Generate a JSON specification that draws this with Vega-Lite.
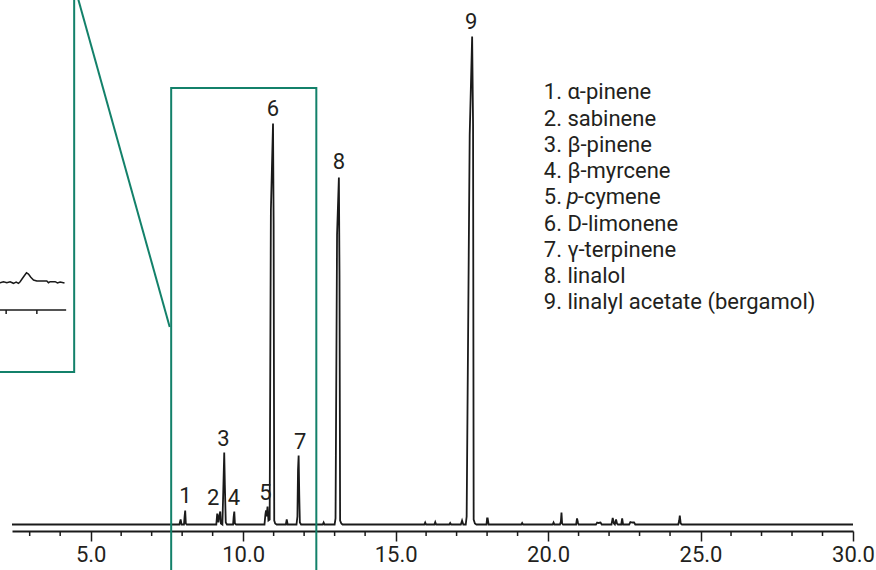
{
  "$schema": "https://vega.github.io/schema/vega-lite/v6.json",
  "width": 841,
  "height": 531,
  "autosize": {"type": "none"},
  "padding": {"left": 12, "right": 23, "top": 0, "bottom": 39},
  "background": "white",
  "config": {"view": {"stroke": null}, "font": "Roboto", "axis": {"labelOverlap": false, "labelFlush": false}},
  "datasets": {
    "trace": [
      {"t": 2.42, "v": 0},
      {"t": 7.91, "v": 0}, {"t": 7.95, "v": 5}, {"t": 7.98, "v": 0},
      {"t": 8.06, "v": 0}, {"t": 8.08, "v": 8}, {"t": 8.10, "v": 14}, {"t": 8.12, "v": 1}, {"t": 8.15, "v": 0},
      {"t": 9.12, "v": 0}, {"t": 9.15, "v": 11}, {"t": 9.19, "v": 2}, {"t": 9.22, "v": 9}, {"t": 9.25, "v": 13}, {"t": 9.27, "v": 1}, {"t": 9.32, "v": 0},
      {"t": 9.35, "v": 35}, {"t": 9.38, "v": 72}, {"t": 9.40, "v": 40}, {"t": 9.43, "v": 2}, {"t": 9.47, "v": 0},
      {"t": 9.67, "v": 0}, {"t": 9.69, "v": 8}, {"t": 9.71, "v": 13}, {"t": 9.73, "v": 1}, {"t": 9.77, "v": 0},
      {"t": 10.70, "v": 0}, {"t": 10.73, "v": 10}, {"t": 10.75, "v": 14}, {"t": 10.77, "v": 8}, {"t": 10.80, "v": 18}, {"t": 10.83, "v": 4},
      {"t": 10.87, "v": 5}, {"t": 10.91, "v": 314}, {"t": 10.98, "v": 401}, {"t": 11.00, "v": 300}, {"t": 11.02, "v": 4}, {"t": 11.05, "v": 1}, {"t": 11.10, "v": 0},
      {"t": 11.40, "v": 0}, {"t": 11.43, "v": 5}, {"t": 11.46, "v": 0},
      {"t": 11.75, "v": 0}, {"t": 11.78, "v": 8}, {"t": 11.80, "v": 55}, {"t": 11.82, "v": 69}, {"t": 11.84, "v": 30}, {"t": 11.86, "v": 2}, {"t": 11.90, "v": 0},
      {"t": 12.61, "v": 0}, {"t": 12.64, "v": 2}, {"t": 12.67, "v": 0},
      {"t": 13.00, "v": 0}, {"t": 13.03, "v": 6}, {"t": 13.08, "v": 290}, {"t": 13.14, "v": 347}, {"t": 13.16, "v": 250}, {"t": 13.18, "v": 4}, {"t": 13.22, "v": 1}, {"t": 13.26, "v": 0},
      {"t": 15.94, "v": 0}, {"t": 15.97, "v": 2}, {"t": 16.00, "v": 0},
      {"t": 16.27, "v": 0}, {"t": 16.30, "v": 2.5}, {"t": 16.33, "v": 0},
      {"t": 16.76, "v": 0}, {"t": 16.79, "v": 1.5}, {"t": 16.82, "v": 0},
      {"t": 17.14, "v": 0}, {"t": 17.18, "v": 4}, {"t": 17.22, "v": 0},
      {"t": 17.30, "v": 0}, {"t": 17.33, "v": 8}, {"t": 17.43, "v": 390}, {"t": 17.51, "v": 488}, {"t": 17.54, "v": 400}, {"t": 17.56, "v": 5}, {"t": 17.60, "v": 1}, {"t": 17.65, "v": 0},
      {"t": 17.98, "v": 0}, {"t": 18.00, "v": 6}, {"t": 18.02, "v": 6}, {"t": 18.05, "v": 0},
      {"t": 19.12, "v": 0}, {"t": 19.15, "v": 1.5}, {"t": 19.18, "v": 0},
      {"t": 20.15, "v": 0}, {"t": 20.18, "v": 2}, {"t": 20.21, "v": 0},
      {"t": 20.39, "v": 0}, {"t": 20.42, "v": 3}, {"t": 20.44, "v": 12}, {"t": 20.46, "v": 1}, {"t": 20.49, "v": 0},
      {"t": 20.92, "v": 0}, {"t": 20.95, "v": 6}, {"t": 20.98, "v": 2}, {"t": 21.00, "v": 0},
      {"t": 21.57, "v": 0}, {"t": 21.61, "v": 2}, {"t": 21.65, "v": 1.5}, {"t": 21.72, "v": 2}, {"t": 21.76, "v": 0},
      {"t": 22.08, "v": 0}, {"t": 22.12, "v": 6.5}, {"t": 22.16, "v": 1}, {"t": 22.19, "v": 0}, {"t": 22.23, "v": 5}, {"t": 22.26, "v": 1}, {"t": 22.29, "v": 0},
      {"t": 22.40, "v": 0}, {"t": 22.43, "v": 6}, {"t": 22.46, "v": 0},
      {"t": 22.66, "v": 0}, {"t": 22.70, "v": 2.5}, {"t": 22.76, "v": 2}, {"t": 22.82, "v": 2}, {"t": 22.86, "v": 0},
      {"t": 24.27, "v": 0}, {"t": 24.30, "v": 4}, {"t": 24.32, "v": 9}, {"t": 24.35, "v": 1}, {"t": 24.39, "v": 0},
      {"t": 30.0, "v": 0}
    ],
    "minorTicks": [
      {"t": 3}, {"t": 4}, {"t": 6}, {"t": 7}, {"t": 8}, {"t": 9}, {"t": 11}, {"t": 12}, {"t": 13}, {"t": 14},
      {"t": 16}, {"t": 17}, {"t": 18}, {"t": 19}, {"t": 21}, {"t": 22}, {"t": 23}, {"t": 24}, {"t": 26}, {"t": 27}, {"t": 28}, {"t": 29}
    ],
    "insetTrace": [
      {"t": 1.90, "v": 241.8}, {"t": 2.031, "v": 241.8}, {"t": 2.140, "v": 242.8}, {"t": 2.250, "v": 241.8}, {"t": 2.359, "v": 242.8},
      {"t": 2.468, "v": 241.2}, {"t": 2.556, "v": 242.5}, {"t": 2.632, "v": 241.2}, {"t": 2.687, "v": 242.8}, {"t": 2.742, "v": 245.2},
      {"t": 2.818, "v": 248.5}, {"t": 2.895, "v": 251.8}, {"t": 2.960, "v": 250.5}, {"t": 3.037, "v": 247.2}, {"t": 3.125, "v": 244.5},
      {"t": 3.234, "v": 243.5}, {"t": 3.562, "v": 243.5}, {"t": 3.617, "v": 241.8}, {"t": 3.671, "v": 242.8}, {"t": 3.835, "v": 242.8},
      {"t": 3.912, "v": 241.5}, {"t": 3.999, "v": 242.5}, {"t": 4.142, "v": 241.5}
    ],
    "insetAxis": [
      {"t0": 1.90, "t1": 4.196, "v0": 214.5, "v1": 214.5},
      {"t0": 2.228, "t1": 2.228, "v0": 214.5, "v1": 210.5},
      {"t0": 3.235, "t1": 3.235, "v0": 214.5, "v1": 210.5}
    ],
    "boxes": [
      {"t0": 7.64, "t1": 12.40, "v0": 436.5, "v1": -70},
      {"t0": 1.40, "t1": 4.459, "v0": 152.5, "v1": 600}
    ],
    "connector": [
      {"t0": 7.592, "v0": 197.5, "t1": 4.416, "v1": 544.5}
    ],
    "peakLabels": [
      {"n": "1", "t": 8.11, "v": 21.2},
      {"n": "2", "t": 9.02, "v": 19.5},
      {"n": "3", "t": 9.35, "v": 78.8},
      {"n": "4", "t": 9.70, "v": 19.5},
      {"n": "5", "t": 10.73, "v": 24.5},
      {"n": "6", "t": 10.98, "v": 408.5},
      {"n": "7", "t": 11.87, "v": 75.5},
      {"n": "8", "t": 13.14, "v": 355.5},
      {"n": "9", "t": 17.48, "v": 495.2}
    ],
    "compounds": [
      {"n": 1, "label": "1. α-pinene"},
      {"n": 2, "label": "2. sabinene"},
      {"n": 3, "label": "3. β-pinene"},
      {"n": 4, "label": "4. β-myrcene"},
      {"n": 5, "label": "5.", "ital": "p", "rest": "-cymene"},
      {"n": 6, "label": "6. D-limonene"},
      {"n": 7, "label": "7. γ-terpinene"},
      {"n": 8, "label": "8. linalol"},
      {"n": 9, "label": "9. linalyl acetate (bergamol)"}
    ]
  },
  "layer": [
    {
      "layer": [
        {
          "data": {"name": "trace"},
          "mark": {"type": "line", "color": "#1a1a1a", "strokeWidth": 1.8, "strokeJoin": "miter"},
          "encoding": {
            "x": {
              "field": "t", "type": "quantitative",
              "scale": {"domain": [2.42, 30.0], "nice": false, "zero": false},
              "axis": {
                "title": null,
                "grid": false,
                "values": [5, 10, 15, 20, 25, 30],
                "format": ".1f",
                "labelOverlap": false,
                "labelFlush": false,
                "labelFont": "Roboto",
                "labelFontSize": 22,
                "labelColor": "#231f20",
                "labelPadding": 3,
                "domainColor": "#1a1a1a",
                "domainWidth": 2,
                "tickColor": "#1a1a1a",
                "tickWidth": 1.5,
                "tickSize": 10
              }
            },
            "y": {
              "field": "v", "type": "quantitative",
              "scale": {"domain": [-6.5, 524.5], "nice": false, "zero": false},
              "axis": null
            }
          }
        },
        {
          "data": {"name": "minorTicks"},
          "mark": {"type": "rule", "color": "#1a1a1a", "strokeWidth": 1.5},
          "encoding": {
            "x": {"field": "t", "type": "quantitative"},
            "y": {"datum": -6.5, "type": "quantitative"},
            "y2": {"datum": -11.5}
          }
        },
        {
          "data": {"name": "insetTrace"},
          "mark": {"type": "line", "color": "#1a1a1a", "strokeWidth": 1.5},
          "encoding": {
            "x": {"field": "t", "type": "quantitative"},
            "y": {"field": "v", "type": "quantitative"}
          }
        },
        {
          "data": {"name": "insetAxis"},
          "mark": {"type": "rule", "color": "#1a1a1a", "strokeWidth": 1.5},
          "encoding": {
            "x": {"field": "t0", "type": "quantitative"},
            "x2": {"field": "t1"},
            "y": {"field": "v0", "type": "quantitative"},
            "y2": {"field": "v1"}
          }
        },
        {
          "data": {"name": "boxes"},
          "mark": {"type": "rect", "fill": null, "fillOpacity": 0, "stroke": "#13816a", "strokeWidth": 2},
          "encoding": {
            "x": {"field": "t0", "type": "quantitative"},
            "x2": {"field": "t1"},
            "y": {"field": "v0", "type": "quantitative"},
            "y2": {"field": "v1"}
          }
        },
        {
          "data": {"name": "connector"},
          "mark": {"type": "rule", "color": "#13816a", "strokeWidth": 2},
          "encoding": {
            "x": {"field": "t0", "type": "quantitative"},
            "x2": {"field": "t1"},
            "y": {"field": "v0", "type": "quantitative"},
            "y2": {"field": "v1"}
          }
        },
        {
          "data": {"name": "peakLabels"},
          "mark": {"type": "text", "font": "Roboto", "fontSize": 22, "color": "#231f20", "align": "center", "baseline": "alphabetic"},
          "encoding": {
            "x": {"field": "t", "type": "quantitative"},
            "y": {"field": "v", "type": "quantitative"},
            "text": {"field": "n", "type": "nominal"}
          }
        }
      ]
    },
    {
      "data": {"name": "compounds"},
      "layer": [
        {
          "mark": {"type": "text", "font": "Roboto", "fontSize": 22, "color": "#231f20", "align": "left", "baseline": "alphabetic"},
          "encoding": {"text": {"field": "label", "type": "nominal"}}
        },
        {
          "transform": [{"filter": "isValid(datum.ital)"}],
          "mark": {"type": "text", "font": "Roboto", "fontSize": 22, "fontStyle": "italic", "color": "#231f20", "align": "left", "baseline": "alphabetic", "dx": 23},
          "encoding": {"text": {"field": "ital", "type": "nominal"}}
        },
        {
          "transform": [{"filter": "isValid(datum.rest)"}],
          "mark": {"type": "text", "font": "Roboto", "fontSize": 22, "color": "#231f20", "align": "left", "baseline": "alphabetic", "dx": 34},
          "encoding": {"text": {"field": "rest", "type": "nominal"}}
        }
      ],
      "encoding": {
        "x": {"datum": 19.86, "type": "quantitative", "scale": {"domain": [2.42, 30.0], "nice": false, "zero": false}, "axis": null},
        "y": {"field": "n", "type": "ordinal", "scale": {"type": "point", "range": [99.3, 309.3], "padding": 0}, "axis": null}
      }
    }
  ],
  "resolve": {"scale": {"x": "independent", "y": "independent"}, "axis": {"x": "independent", "y": "independent"}}
}
